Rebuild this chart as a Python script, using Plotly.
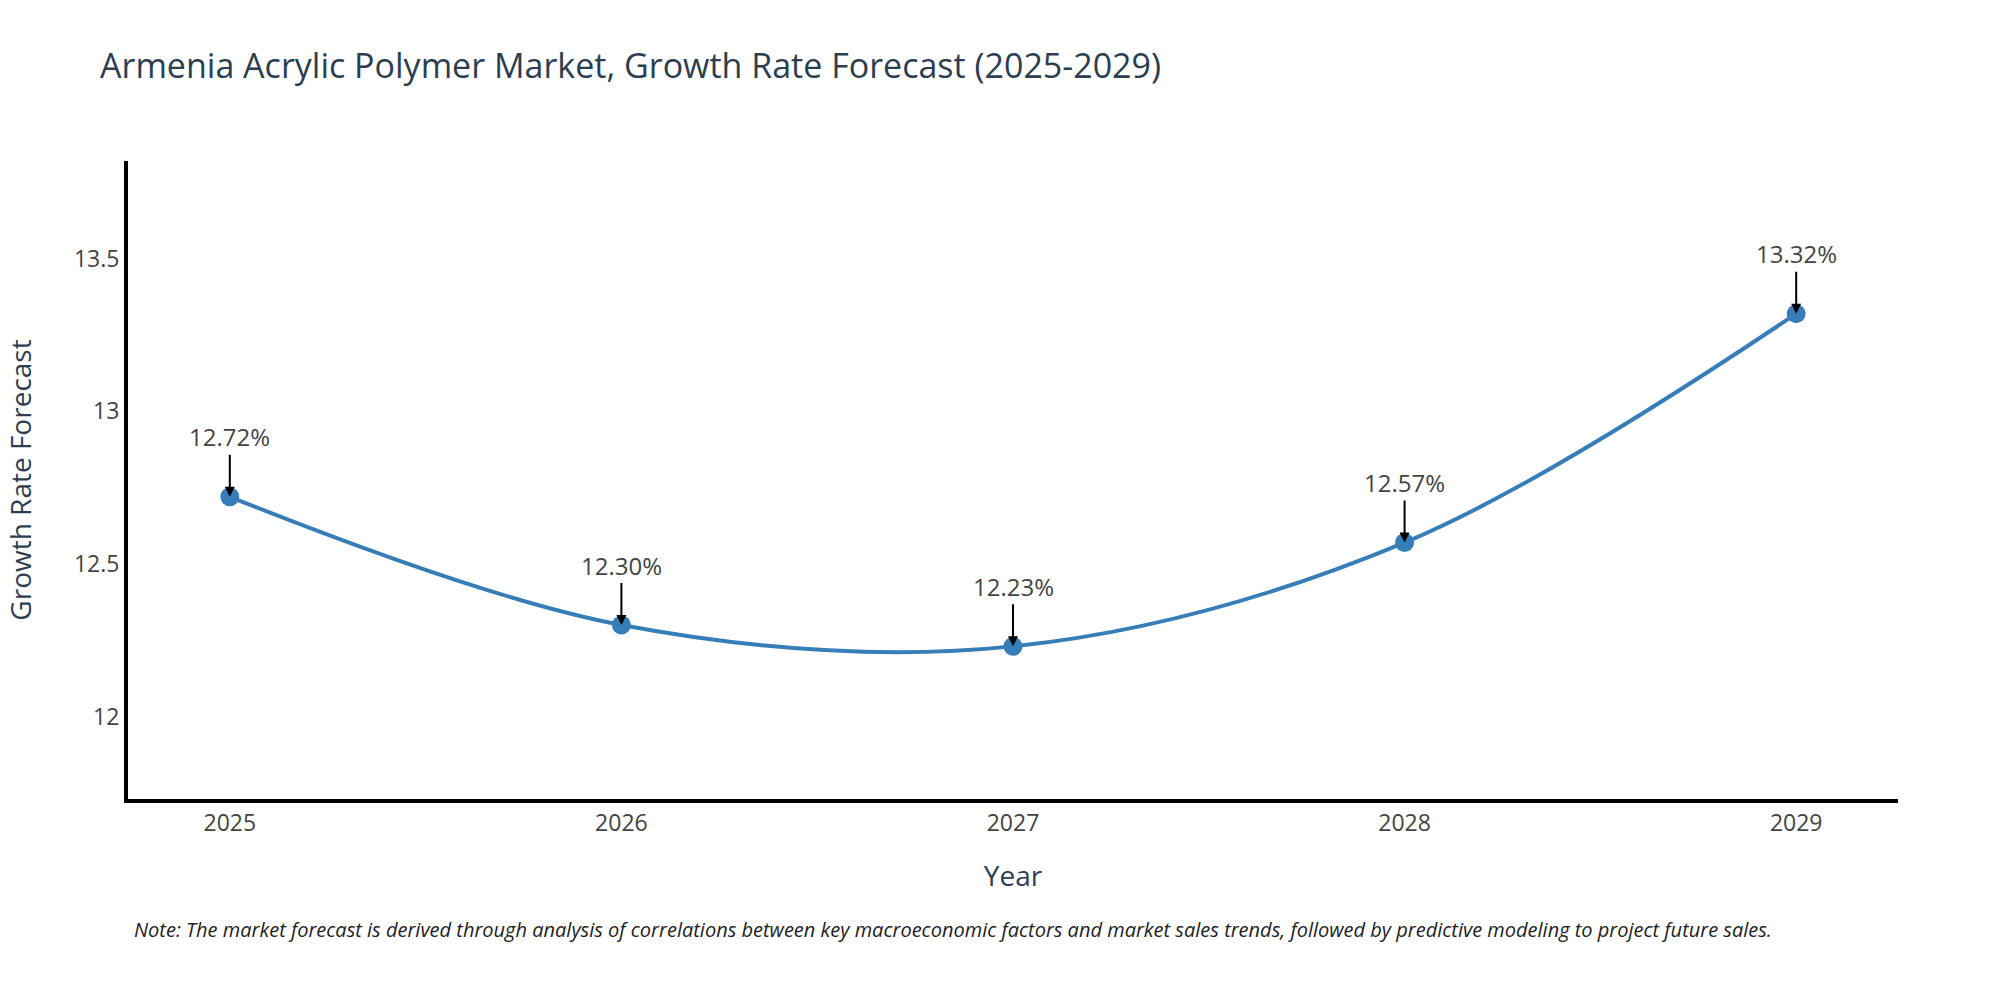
import plotly.graph_objects as go

years = [2025, 2026, 2027, 2028, 2029]
growth_rates = [12.72, 12.30, 12.23, 12.57, 13.32]
labels = ["12.72%", "12.30%", "12.23%", "12.57%", "13.32%"]

TITLE = "Armenia Acrylic Polymer Market, Growth Rate Forecast (2025-2029)"
NOTE = (
    "Note: The market forecast is derived through analysis of correlations between key "
    "macroeconomic factors and market sales trends, followed by predictive modeling to "
    "project future sales."
)

fig = go.Figure(
    go.Scatter(
        x=years,
        y=growth_rates,
        mode="lines+markers",
        line={"shape": "spline", "width": 4, "color": "#377eb8"},
        marker={"size": 19, "color": "#377eb8"},
        hoverinfo="x+y",
        showlegend=False,
    )
)

for year, rate, label in zip(years, growth_rates, labels):
    fig.add_annotation(
        x=year,
        y=rate,
        text=label,
        showarrow=True,
        arrowhead=2,
        arrowsize=1,
        arrowwidth=2,
        arrowcolor="black",
        ax=0,
        ay=-60,
        font={"size": 24, "color": "#444"},
    )

# footnote under the x axis title
fig.add_annotation(
    text=f"<i>{NOTE}</i>",
    xref="paper",
    yref="paper",
    x=0.002,
    y=-0.18,
    xanchor="left",
    yanchor="top",
    showarrow=False,
    font={"size": 20, "color": "#222"},
)

fig.update_layout(
    template="plotly_white",
    font={"family": "Open Sans", "color": "#444"},
    title={
        "text": TITLE,
        "x": 0.05,
        "xanchor": "left",
        "y": 0.934,
        "yanchor": "middle",
        "font": {"size": 34, "color": "#2c3e50"},
    },
    width=2000,
    height=1000,
    margin={"l": 128, "r": 102, "t": 161, "b": 201},
    plot_bgcolor="white",
    xaxis={
        "title": {"text": "Year", "font": {"size": 28, "color": "#2c3e50"}, "standoff": 31},
        "tickmode": "array",
        "tickvals": years,
        "range": [2024.74, 2029.26],
        "showgrid": False,
        "zeroline": False,
        "showline": True,
        "linecolor": "black",
        "linewidth": 4,
        "tickfont": {"size": 23},
    },
    yaxis={
        "title": {"text": "Growth Rate Forecast", "font": {"size": 28, "color": "#2c3e50"}, "standoff": 35},
        "range": [min(growth_rates) - 0.5, max(growth_rates) + 0.5],
        "dtick": 0.5,
        "showgrid": False,
        "zeroline": False,
        "showline": True,
        "linecolor": "black",
        "linewidth": 4,
        "tickfont": {"size": 23},
    },
)

fig.write_html(
    "out.html",
    config={"displayModeBar": False},
    post_script="document.body.style.margin = '0';",
)
